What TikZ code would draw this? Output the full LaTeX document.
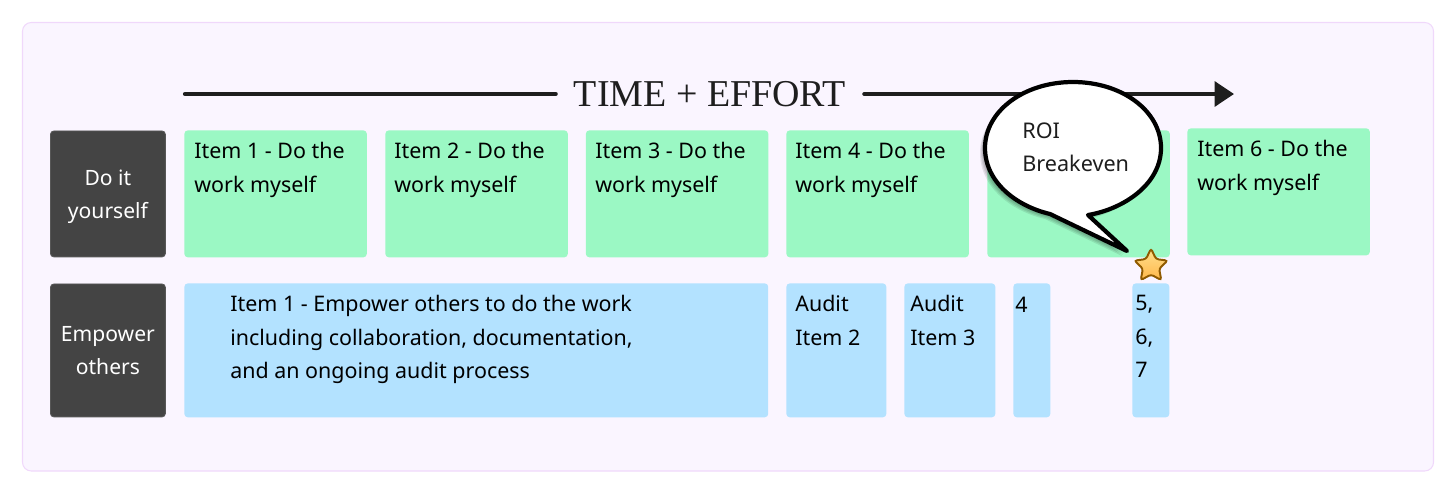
\documentclass[tikz,border=0pt]{standalone}
\usepackage{fontspec}
\setmainfont{Noto Sans}
\newfontfamily\titlefont{Liberation Serif}
\usetikzlibrary{shapes.geometric, arrows.meta, positioning}
\definecolor{panelfill}{HTML}{FAF5FF}
\definecolor{paneledge}{HTML}{F0D8FB}
\definecolor{darkfill}{HTML}{444444}
\definecolor{greenfill}{HTML}{9BF8C4}
\definecolor{bluefill}{HTML}{B3E2FF}
\definecolor{inkcol}{HTML}{1E1E1E}
\definecolor{staredge}{HTML}{8F5A00}
\definecolor{startop}{HTML}{FFDF8E}
\definecolor{starbottom}{HTML}{FFB84A}
\newcommand{\bubblepath}{(1050,214) .. controls (1016,206) and (985,182) .. (985,148)
  .. controls (985,111) and (1024,82) .. (1073,82)
  .. controls (1122,82) and (1161,111) .. (1161,148)
  .. controls (1161,184) and (1124,209) .. (1088,215)
  -- (1127,251) -- cycle}
\tikzset{
  rowbox/.style={anchor=north west, rectangle, rounded corners=2pt, fill=darkfill, draw=darkfill!90!white, line width=0.5pt, inner sep=0pt, text=white, align=center, font=\fontsize{12}{19}\selectfont},
  notebox/.style={anchor=north west, rectangle, rounded corners=2pt, inner sep=0pt},
  greenbox/.style={notebox, fill=greenfill, minimum width=3.65cm, minimum height=2.54cm},
  bluebox/.style={notebox, fill=bluefill, minimum height=2.68cm},
  notetext/.style={anchor=north west, inner sep=0pt, align=left, text=black, font=\fontsize{12.2}{19}\selectfont, execute at begin node=\strut},
  timeline/.style={line width=2.4pt, color=inkcol, line cap=round}
}
\begin{document}
\begin{tikzpicture}[x=0.02cm, y=-0.02cm]
\useasboundingbox (0,0) rectangle (1456,494);
% Panel
\fill[panelfill, draw=paneledge, line width=0.6pt, rounded corners=5pt] (22.5,22.5) rectangle (1433.5,471);

% Time line
\coordinate (linestart) at (185,94);
\coordinate (lineend) at (1234,94);
\node[font=\titlefont\fontsize{21.6}{26}\selectfont, text=inkcol, inner sep=0pt, minimum width=6.16cm] (title) at (710,94) {TIME + EFFORT};
\draw[timeline] (linestart) -- (title.west);
\draw[timeline, -{Triangle[length=11pt, width=14pt]}] (title.east) -- (lineend);

% Row labels
\node[rowbox, minimum width=2.3cm, minimum height=2.52cm] (doit) at (50,130.5) {\rule{0pt}{12pt}Do it\\yourself};
\node[rowbox, minimum width=2.3cm, minimum height=2.66cm] (empower) at (50,283.5) {Empower\\others};

% Top row
\node[greenbox] (do1) at (184,130) {};
\node[greenbox] (do2) at (385,130) {};
\node[greenbox] (do3) at (585.5,130) {};
\node[greenbox] (do4) at (786,130) {};
\node[greenbox] (do5) at (987,130) {};
\node[greenbox] (do6) at (1187,128) {};
\node[notetext] (do1text) at (194,142) {Item 1 - Do the\\work myself};
\node[notetext] (do2text) at (394,142) {Item 2 - Do the\\work myself};
\node[notetext] (do3text) at (595,142) {Item 3 - Do the\\work myself};
\node[notetext] (do4text) at (795,142) {Item 4 - Do the\\work myself};
\node[notetext] (do6text) at (1197,140) {Item 6 - Do the\\work myself};

% Bottom row
\node[bluebox, minimum width=11.68cm] (emp1) at (184,283) {};
\node[bluebox, minimum width=2cm] (emp2) at (786,283) {};
\node[bluebox, minimum width=1.82cm] (emp3) at (904,283) {};
\node[bluebox, minimum width=0.74cm] (emp4) at (1013,283) {};
\node[bluebox, minimum width=0.74cm] (emp5) at (1132,283) {};
\node[notetext] (emp1text) at (230,295) {Item 1 - Empower others to do the work\\including collaboration, documentation,\\and an ongoing audit process};
\node[notetext] (emp2text) at (795,295) {Audit\\Item 2};
\node[notetext] (emp3text) at (910,295) {Audit\\Item 3};
\node[notetext] (emp4text) at (1015,289) {4};
\node[notetext] (emp5text) at (1135,295) {5,\\6,\\7};

% Breakeven bubble
\foreach \s in {1,...,5}
  \fill[black, opacity=0.09, shift={(-\s,\s)}] \bubblepath;
\filldraw[fill=white, draw=black, line width=2.4pt, line join=round] \bubblepath;
\node[anchor=north west, inner sep=0pt, align=left, text=inkcol, font=\fontsize{12.3}{19}\selectfont, execute at begin node=\strut] (roi) at (1022,122.5) {ROI\\Breakeven};

% Star
\node[star, star points=5, star point ratio=2.05, minimum size=0.7cm, inner sep=0pt, rounded corners=1.5pt, draw=staredge, line width=1.1pt, top color=startop, bottom color=starbottom] (breakstar) at (1151,266) {};
\end{tikzpicture}
\end{document}
